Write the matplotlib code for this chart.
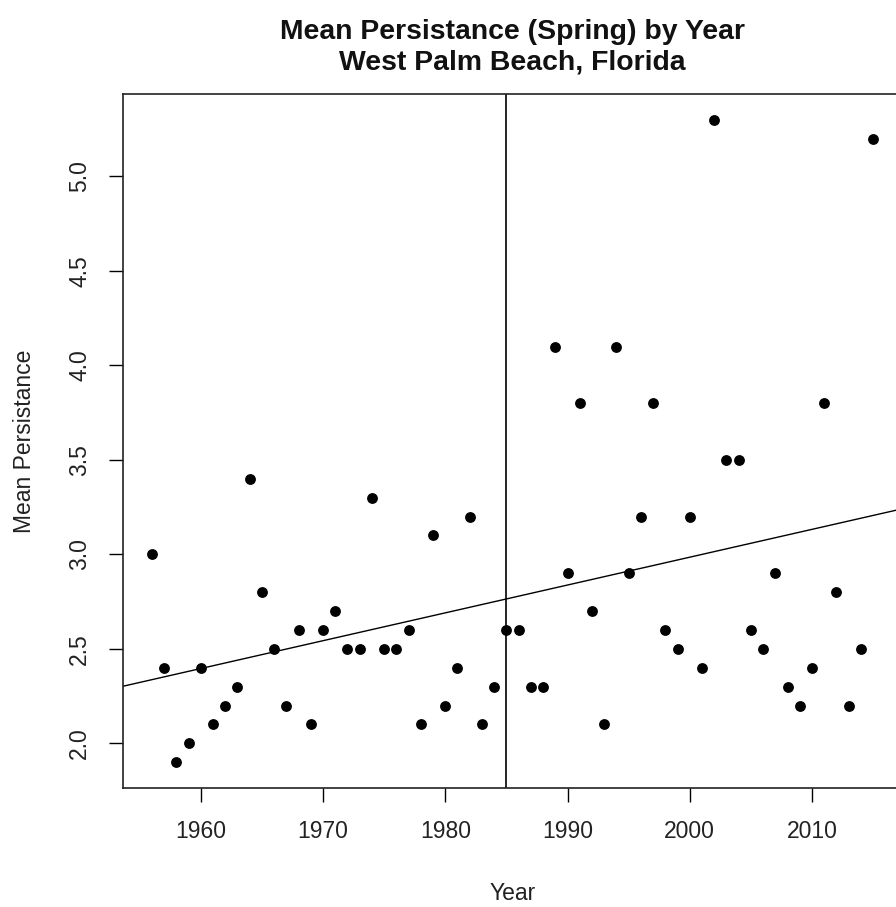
import numpy as np
import matplotlib
matplotlib.use("Agg")
import matplotlib.pyplot as plt

plt.rcParams['font.family'] = ['Liberation Sans', 'DejaVu Sans']

# Spring mean persistence per year
years = list(range(1956, 2016))
persistence = [
    3.0, 2.4, 1.9, 2.0, 2.4, 2.1, 2.2, 2.3, 3.4, 2.8,   # 1956-1965
    2.5, 2.2, 2.6, 2.1, 2.6, 2.7, 2.5, 2.5, 3.3, 2.5,   # 1966-1975
    2.5, 2.6, 2.1, 3.1, 2.2, 2.4, 3.2, 2.1, 2.3, 2.6,   # 1976-1985
    2.6, 2.3, 2.3, 4.1, 2.9, 3.8, 2.7, 2.1, 4.1, 2.9,   # 1986-1995
    3.2, 3.8, 2.6, 2.5, 3.2, 2.4, 5.3, 3.5, 3.5, 2.6,   # 1996-2005
    2.5, 2.9, 2.3, 2.2, 2.4, 3.8, 2.8, 2.2, 2.5, 5.2,   # 2006-2015
]
break_year = 1985
x_ticks = [1960, 1970, 1980, 1990, 2000, 2010]
y_ticks = [2.0, 2.5, 3.0, 3.5, 4.0, 4.5, 5.0]

x = np.array(years, dtype=float)
y = np.array(persistence, dtype=float)

W, H = 896, 907
fig = plt.figure(figsize=(W / 100, H / 100), dpi=100)
fig.patch.set_facecolor('white')

left_px, right_px, top_px, bottom_px = 123, 902, 94, 788
ax = fig.add_axes([left_px / W, 1 - bottom_px / H,
                   (right_px - left_px) / W, (bottom_px - top_px) / H])

ax.plot(x, y, 'o', color='black', markersize=7.8, markeredgewidth=0)

# axis ranges padded by 4% as in base graphics
def padded(v):
    r = v.max() - v.min()
    return v.min() - 0.04 * r, v.max() + 0.04 * r

ax.set_xlim(*padded(x))
ax.set_ylim(*padded(y))

# least-squares trend line across the whole panel
slope, intercept = np.polyfit(x, y, 1)
ax.axline((0, intercept), slope=slope, color='black', linewidth=1.0)
ax.axvline(break_year, color='black', linewidth=1.2)

for s in ax.spines.values():
    s.set_linewidth(1.2)
    s.set_color('#222222')

fs = 16.5
ax.set_xticks(x_ticks)
ax.set_xticklabels([str(t) for t in x_ticks])
ax.set_yticks(y_ticks)
ax.set_yticklabels([f"{t:.1f}" for t in y_ticks], rotation=90, va='center')
ax.tick_params(axis='both', direction='out', length=10, width=1.0,
               labelsize=fs, colors='black', labelcolor='#222222')
ax.tick_params(axis='x', pad=13)
ax.tick_params(axis='y', pad=13)

ax.set_xlabel("Year", fontsize=fs, color='#222222', labelpad=28)
ax.set_ylabel("Mean Persistance", fontsize=fs, color='#222222', labelpad=23)
ax.set_title("Mean Persistance (Spring) by Year\nWest Palm Beach, Florida",
             fontsize=20.4, fontweight='bold', color='#111111', pad=18)

fig.savefig("out.png", dpi=100, facecolor='white')
